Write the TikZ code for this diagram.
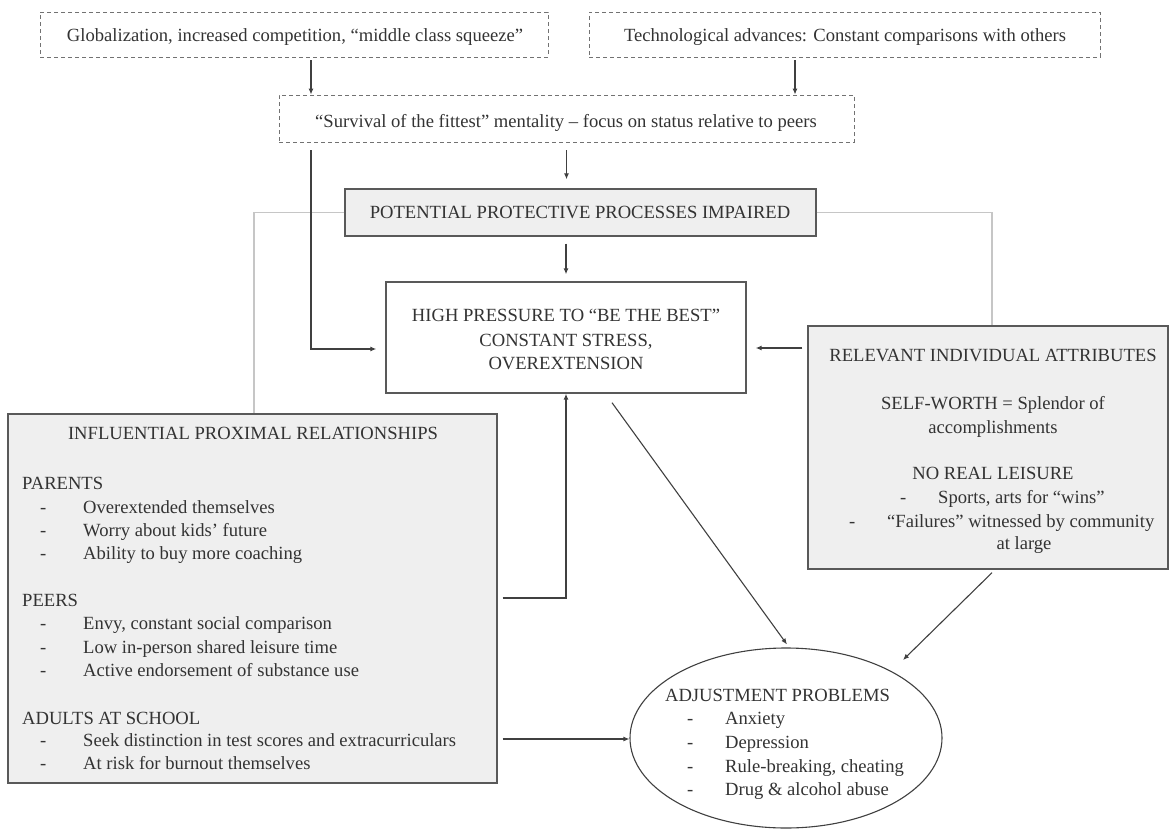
\documentclass[tikz,border=0pt]{standalone}
\usepackage{fontspec}
\setmainfont{Liberation Serif}
\usetikzlibrary{arrows.meta,calc,shapes.geometric}
\definecolor{txt}{HTML}{333333}
\definecolor{edge}{HTML}{595959}
\definecolor{boxfill}{HTML}{EFEFEF}
\definecolor{glink}{HTML}{C6C6C6}
\definecolor{arrc}{HTML}{404040}
\begin{document}
\begin{tikzpicture}[x=1pt,y=-1pt,
  every node/.style={font=\fontsize{18.6}{23}\selectfont, text=txt},
  dbox/.style={draw=edge!85, dash pattern=on 4pt off 3pt, line width=0.9pt, inner sep=0pt},
  gbox/.style={draw=edge, fill=boxfill, line width=1.4pt, inner sep=0pt},
  wbox/.style={draw=edge, fill=white, line width=1.4pt, inner sep=0pt},
  tc/.style={inner sep=0pt, anchor=base},
  tw/.style={inner sep=0pt, anchor=base west},
  conn/.style={draw=arrc, line width=1.1pt, -{Latex[length=6pt,width=5pt]}},
  glinestyle/.style={draw=glink, line width=1.8pt},
]
\useasboundingbox (0,0) rectangle (1170,830);

% boxes
\node[dbox, minimum width=508pt, minimum height=45pt] (tl) at (294,34.5) {};
\node[dbox, minimum width=511pt, minimum height=45pt] (tr) at (844.5,34.5) {};
\node[dbox, minimum width=575pt, minimum height=47pt] (surv) at (566.5,118.5) {};
\node[gbox, minimum width=471pt, minimum height=47pt] (pot) at (580.5,212.5) {};
\node[wbox, minimum width=360pt, minimum height=111pt] (hp) at (566,337.5) {};
\node[gbox, minimum width=360pt, minimum height=243pt] (rb) at (988,447.5) {};
\node[gbox, minimum width=489pt, minimum height=369pt] (lb) at (252.5,598.5) {};
\node[ellipse, draw=arrc, fill=white, line width=1.1pt, minimum width=312pt, minimum height=180pt, inner sep=0pt] (adj) at (786,738) {};

% texts
\node[tc] (ttl) at (295,41) {Globalization, increased competition, “middle class squeeze”};
\node[tc] (ttr) at (845,41) {Technological advances: Constant comparisons with others};
\node[tc] (tsurv) at (566,127) {“Survival of the fittest" mentality – focus on status relative to peers};
\node[tc] (tpot) at (580,218) {POTENTIAL PROTECTIVE PROCESSES IMPAIRED};
\node[tc] (thp1) at (566,321) {HIGH PRESSURE TO “BE THE BEST”};
\node[tc] (thp2) at (566,346) {CONSTANT STRESS,};
\node[tc] (thp3) at (566,369) {OVEREXTENSION};

\node[tc] (trb1) at (993,361) {RELEVANT INDIVIDUAL ATTRIBUTES};
\node[tc] (trb2) at (993,409) {SELF-WORTH = Splendor of};
\node[tc] (trb3) at (993,433) {accomplishments};
\node[tc] (trb4) at (993,479) {NO REAL LEISURE};
\node[tw] (trd1) at (900,503) {-};
\node[tw] (trb5) at (938,503) {Sports, arts for “wins”};
\node[tw] (trd2) at (849,527) {-};
\node[tw] (trb6) at (887,527) {“Failures” witnessed by community};
\node[tc] (trb7) at (1024,549) {at large};

\node[tc] (tlb0) at (253,439) {INFLUENTIAL PROXIMAL RELATIONSHIPS};
\node[tw] (tlh1) at (22,489) {PARENTS};
\node[tw] (tld1) at (40,513) {-};
\node[tw] (tli1) at (83,513) {Overextended themselves};
\node[tw] (tld2) at (40,536) {-};
\node[tw] (tli2) at (83,536) {Worry about kids’ future};
\node[tw] (tld3) at (40,559) {-};
\node[tw] (tli3) at (83,559) {Ability to buy more coaching};
\node[tw] (tlh2) at (22,606) {PEERS};
\node[tw] (tld4) at (40,629) {-};
\node[tw] (tli4) at (83,629) {Envy, constant social comparison};
\node[tw] (tld5) at (40,653) {-};
\node[tw] (tli5) at (83,653) {Low in-person shared leisure time};
\node[tw] (tld6) at (40,676) {-};
\node[tw] (tli6) at (83,676) {Active endorsement of substance use};
\node[tw] (tlh3) at (22,724) {ADULTS AT SCHOOL};
\node[tw] (tld7) at (40,746) {-};
\node[tw] (tli7) at (83,746) {Seek distinction in test scores and extracurriculars};
\node[tw] (tld8) at (40,769) {-};
\node[tw] (tli8) at (83,769) {At risk for burnout themselves};

\node[tc] (tadj) at (777.5,701) {ADJUSTMENT PROBLEMS};
\node[tw] (tad1) at (687,724) {-};
\node[tw] (tai1) at (725,724) {Anxiety};
\node[tw] (tad2) at (687,748) {-};
\node[tw] (tai2) at (725,748) {Depression};
\node[tw] (tad3) at (687,772) {-};
\node[tw] (tai3) at (725,772) {Rule-breaking, cheating};
\node[tw] (tad4) at (687,795) {-};
\node[tw] (tai4) at (725,795) {Drug \& alcohol abuse};

% gray links
\draw[glinestyle] (pot.west) -| ($(lb.north)+(1.5,0)$);
\draw[glinestyle] (pot.east) -| ($(rb.north)+(4,0)$);

% connectors
\coordinate (c1) at ($(tl.south)+(17,3)$);
\draw[conn] (c1) -- (c1 |- surv.north);
\coordinate (c2) at ($(tr.south)+(-49.5,3)$);
\draw[conn] (c2) -- (c2 |- surv.north);
\coordinate (c3) at ($(surv.south)+(0,8)$);
\draw[conn] (c3) -- ($(c3 |- pot.north)+(0,-9)$);
\coordinate (c4) at ($(hp.north |- pot.south)+(0,7)$);
\draw[conn] (c4) -- ($(hp.north)+(0,-7)$);
\coordinate (c5) at ($(c1 |- surv.south)+(0,8)$);
\draw[conn] (c5) |- ($(hp.west)+(-9,11.5)$);
\coordinate (c6) at ($(rb.west |- hp.west)+(-5,10.5)$);
\draw[conn] (c6) -- ($(hp.east)+(9,10.5)$);
\coordinate (c7) at ($(lb.east)+(5,-0.5)$);
\draw[conn] (c7) -| (hp.south);
\coordinate (c8) at ($(hp.south)+(46,9)$);
\draw[conn] (c8) -- ($(adj.north)+(1,-3)$);
\coordinate (c9) at ($(rb.south)+(4,3)$);
\draw[conn] (c9) -- ($(adj.center)+(117,-78)$);
\coordinate (c10) at ($(lb.east)+(5,140.5)$);
\draw[conn] (c10) -- (c10 -| adj.west);
\end{tikzpicture}
\end{document}
